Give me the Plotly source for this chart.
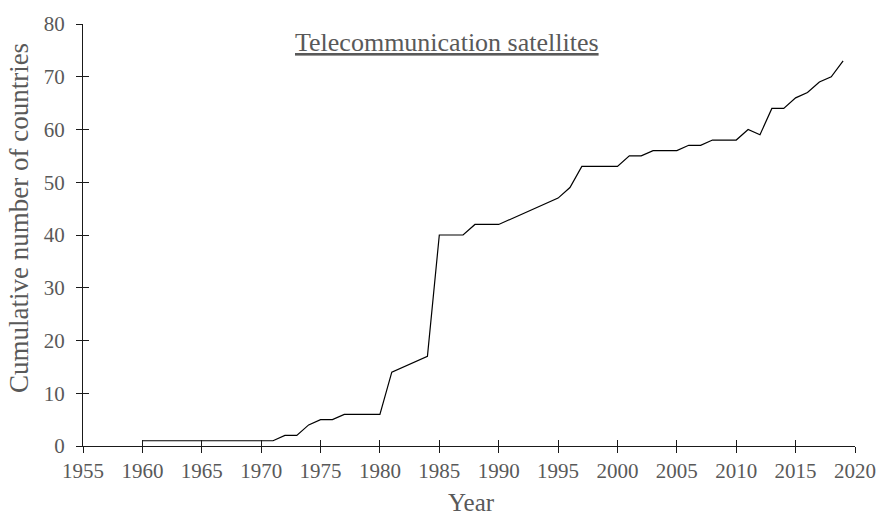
import plotly.graph_objects as go

# Cumulative number of countries with telecommunication satellites, by year
years = list(range(1960, 2020))
countries = [
    1, 1, 1, 1, 1, 1, 1, 1, 1, 1,        # 1960-1969
    1, 1, 2, 2, 4, 5, 5, 6, 6, 6,        # 1970-1979
    6, 14, 15, 16, 17, 40, 40, 40, 42, 42,  # 1980-1989
    42, 43, 44, 45, 46, 47, 49, 53, 53, 53,  # 1990-1999
    53, 55, 55, 56, 56, 56, 57, 57, 58, 58,  # 2000-2009
    58, 60, 59, 64, 64, 66, 67, 69, 70, 73,  # 2010-2019
]

x_ticks = list(range(1955, 2021, 5))
y_ticks = list(range(0, 81, 10))

FONT = "Liberation Serif"
TEXT = "#595959"
AXIS = "#1a1a1a"

fig = go.Figure()
fig.add_trace(go.Scatter(
    x=years, y=countries, mode="lines",
    line=dict(color="black", width=1.2),
    hoverinfo="x+y", showlegend=False,
))
# companion trace on the overlay axes that carry the inward half of the ticks
fig.add_trace(go.Scatter(
    x=[1955], y=[0], xaxis="x2", yaxis="y2", mode="markers",
    marker=dict(opacity=0), hoverinfo="skip", showlegend=False,
))

common_tick = dict(ticklen=6, tickwidth=1, tickcolor=AXIS)

fig.update_layout(
    width=888, height=519,
    margin=dict(l=83, r=22, t=17, b=73),
    paper_bgcolor="white", plot_bgcolor="white",
    font=dict(family=FONT, color=TEXT, size=21),
    xaxis=dict(
        range=[1955, 2020], tickvals=x_ticks, ticks="outside",
        showline=True, linecolor=AXIS, linewidth=1, showgrid=False,
        zeroline=False, tickfont=dict(family=FONT, size=21, color=TEXT),
        **common_tick,
    ),
    yaxis=dict(
        range=[0, 80], tickvals=y_ticks, ticks="outside",
        showline=True, linecolor=AXIS, linewidth=1, showgrid=False,
        zeroline=False, tickfont=dict(family=FONT, size=21, color=TEXT),
        ticklabelstandoff=7,
        **common_tick,
    ),
    xaxis2=dict(
        range=[1955, 2020], tickvals=x_ticks, ticks="inside",
        overlaying="x", showline=False, showgrid=False, zeroline=False,
        showticklabels=False, **common_tick,
    ),
    yaxis2=dict(
        range=[0, 80], tickvals=y_ticks, ticks="inside",
        overlaying="y", showline=False, showgrid=False, zeroline=False,
        showticklabels=False, **common_tick,
    ),
    annotations=[
        dict(
            text="<u>Telecommunication satellites</u>",
            x=0.472, y=0.955, xref="paper", yref="paper",
            xanchor="center", yanchor="middle", showarrow=False,
            font=dict(size=26, color=TEXT, family=FONT),
        ),
        dict(
            text="Cumulative number of countries",
            x=-0.083, y=0.54, xref="paper", yref="paper",
            xanchor="center", yanchor="middle", showarrow=False,
            textangle=-90, font=dict(size=27, color=TEXT, family=FONT),
        ),
        dict(
            text="Year",
            x=0.503, y=-0.133, xref="paper", yref="paper",
            xanchor="center", yanchor="middle", showarrow=False,
            font=dict(size=25, color=TEXT, family=FONT),
        ),
    ],
)

fig.write_html("out.html")
